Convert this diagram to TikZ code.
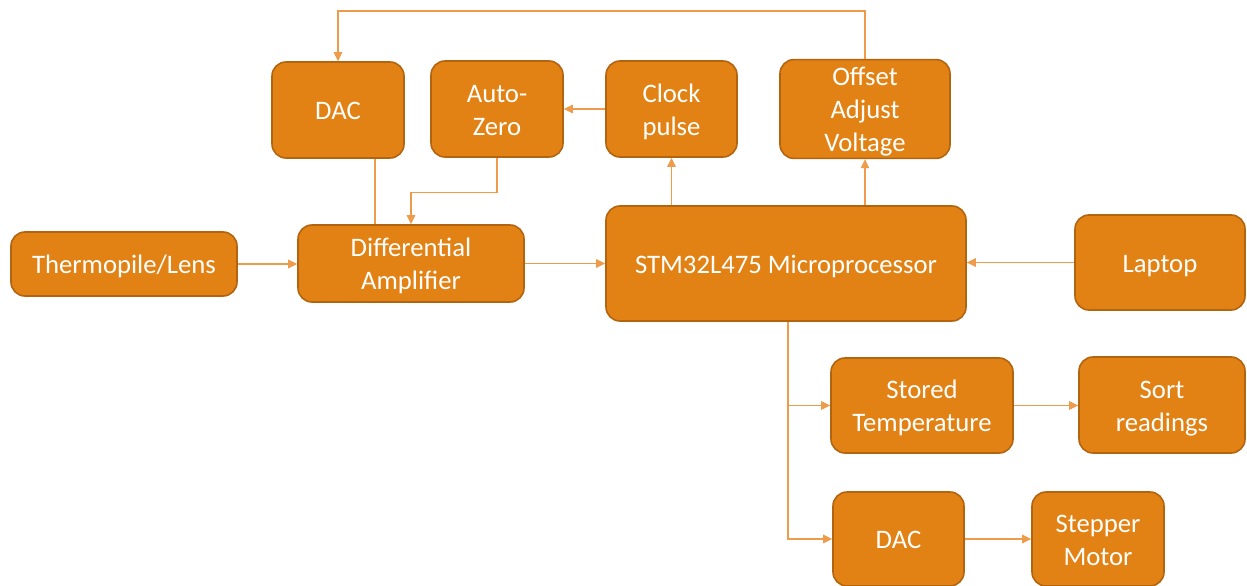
\documentclass[tikz,border=0pt]{standalone}
\usepackage{fontspec}
\setmainfont{Carlito}
\usetikzlibrary{arrows.meta}
\definecolor{boxfill}{RGB}{227,130,20}
\definecolor{boxline}{RGB}{178,100,15}
\definecolor{linecol}{RGB}{238,155,75}
\newcommand\ts{\rule{0pt}{26pt}}
\newcommand\bs{\rule[-6.8pt]{0pt}{0pt}}
\tikzset{
  blk/.style={draw=boxline, line width=1.6pt, fill=boxfill, rounded corners=14pt,
    text=white, align=center, inner sep=0pt,
    font=\fontsize{26.7pt}{33pt}\selectfont},
  conn/.style={draw=linecol, line width=1.3pt, -{Triangle[length=9pt,width=8.5pt]}},
  plain/.style={draw=linecol, line width=1.3pt}
}
\begin{document}
\begin{tikzpicture}[x=1pt,y=-1pt]
\useasboundingbox (0,0) rectangle (1247,586);
\node[blk, minimum width=226pt, minimum height=64pt] (therm) at (124,264) {\ts Thermopile/Lens\bs};
\node[blk, minimum width=226pt, minimum height=77pt] (diff) at (411,263.5) {\ts Differential\\Amplifier\bs};
\node[blk, minimum width=132pt, minimum height=96pt] (dac1) at (338,110) {\ts DAC\bs};
\node[blk, minimum width=132pt, minimum height=96pt] (auto) at (497,109) {\ts Auto-\\Zero\bs};
\node[blk, minimum width=131pt, minimum height=96pt] (clock) at (671.5,109) {\ts Clock\\pulse\bs};
\node[blk, minimum width=170pt, minimum height=96pt] (offset) at (865,109) {\ts Offset\\Adjust\\Voltage\bs};
\node[blk, minimum width=360pt, minimum height=115pt] (stm) at (786,263.5) {\ts STM32L475 Microprocessor\bs};
\node[blk, minimum width=170pt, minimum height=95pt] (laptop) at (1160,262.5) {\ts Laptop\bs};
\node[blk, minimum width=182pt, minimum height=95pt] (stored) at (922,405.5) {\ts Stored\\Temperature\bs};
\node[blk, minimum width=166pt, minimum height=96pt] (sort) at (1162,405) {\ts Sort\\readings\bs};
\node[blk, minimum width=131pt, minimum height=94pt] (dac2) at (898.5,539) {\ts DAC\bs};
\node[blk, minimum width=132pt, minimum height=94pt] (stepper) at (1098,539) {\ts Stepper\\Motor\bs};
\coordinate (t1) at (865,11);
\coordinate (t2) at (338,11);
% connectors
\draw[conn] (therm.east) -- (therm.east -| diff.west);
\draw[conn] (diff.east) -- (diff.east -| stm.west);
\draw[conn] (laptop.west) -- (laptop.west -| stm.east);
\draw[conn] (stm.north -| clock.south) -- (clock.south);
\draw[conn] (stm.north -| offset.south) -- (offset.south);
\draw[conn] (clock.west) -- (auto.east);
\draw[conn] (offset.north) -- (t1) -- (t2) -- (dac1.north);
\draw[plain] ([xshift=37pt]dac1.south) -- ([xshift=37pt]dac1.south |- diff.north);
\draw[conn] (auto.south) -- ++(0,35) -| (diff.north);
\draw[conn] ([xshift=2pt]stm.south) |- (stored.west);
\draw[conn] ([xshift=2pt]stm.south) |- (dac2.west);
\draw[conn] (stored.east) -- (stored.east -| sort.west);
\draw[conn] (dac2.east) -- (dac2.east -| stepper.west);
\end{tikzpicture}
\end{document}
